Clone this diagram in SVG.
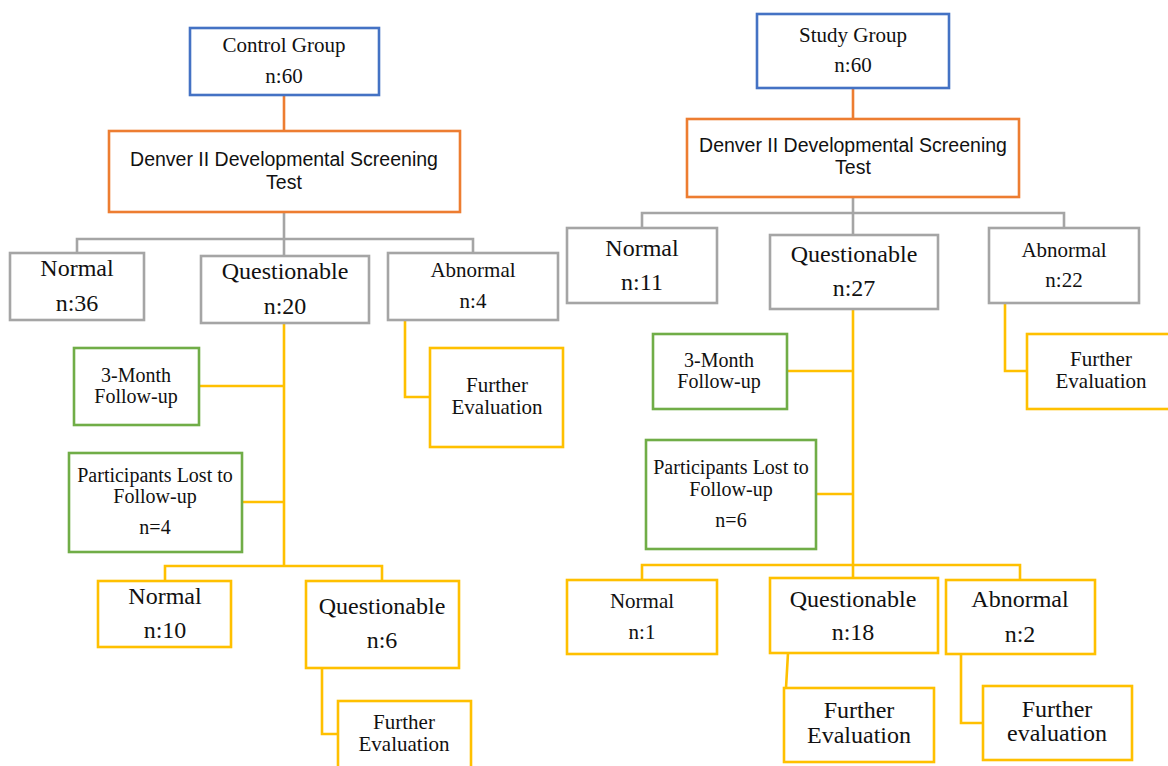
<svg xmlns="http://www.w3.org/2000/svg" width="1168" height="766" viewBox="0 0 1168 766">
<style>
rect{fill:#fff;stroke-width:2.6}
.b{stroke:#4472C4}.o{stroke:#ED7D31}.g{stroke:#A5A5A5}.y{stroke:#FFC000}.gr{stroke:#70AD47}
text{font-family:"Liberation Serif","Times New Roman",serif;fill:#111;text-anchor:middle}
.s20{font-size:20px}.s21{font-size:21px}.s24{font-size:24px}
.sans{font-family:"Liberation Sans",Arial,sans-serif;font-size:19.5px}
#connectors path{fill:none;stroke-width:2.6}
</style>
<rect x="0" y="0" width="1168" height="766" style="fill:#fff;stroke:none"/>
<g id="connectors">
<path class="o" d="M284 95V131M853 88V119"/>
<path class="g" d="M284 212V256M77 253V239H473V253M853 197V235M642 228V213H1064V228"/>
<path class="y" d="M284 323V566M199 386H284M242 502H284M165 581V566H382V581M405 320V397H430M322 668V734H338"/>
<path class="y" d="M853 309V578M787 371H853M816 494H853M642 580V565H1020V580M1005 303V371H1027M788 653L786 688M961 654V723H983"/>
</g>
<g id="control"><rect class="b" x="190" y="28" width="189" height="67"/><text class="s21" x="284" y="52">Control Group</text><text class="s21" x="284" y="83">n:60</text></g>
<g id="denver-left"><rect class="o" x="109" y="131" width="351" height="81"/><text class="sans" x="284" y="166">Denver II Developmental Screening</text><text class="sans" x="284" y="189">Test</text></g>
<g id="normal-left"><rect class="g" x="10" y="253" width="134" height="67"/><text class="s24" x="77" y="276">Normal</text><text class="s24" x="77" y="311">n:36</text></g>
<g id="questionable-left"><rect class="g" x="201" y="256" width="168" height="67"/><text class="s24" x="285" y="279">Questionable</text><text class="s24" x="285" y="314">n:20</text></g>
<g id="abnormal-left"><rect class="g" x="388" y="253" width="170" height="67"/><text class="s21" x="473" y="277">Abnormal</text><text class="s21" x="473" y="308">n:4</text></g>
<g id="further-left-1"><rect class="y" x="430" y="348" width="133" height="99"/><text class="s21" x="497" y="392">Further</text><text class="s21" x="497" y="414">Evaluation</text></g>
<g id="followup-left"><rect class="gr" x="74" y="348" width="125" height="77"/><text class="s20" x="136" y="382">3-Month</text><text class="s20" x="136" y="403">Follow-up</text></g>
<g id="lost-left"><rect class="gr" x="69" y="453" width="173" height="99"/><text class="s20" x="155" y="482">Participants Lost to</text><text class="s20" x="155" y="503">Follow-up</text><text class="s20" x="155" y="534">n=4</text></g>
<g id="normal-left-2"><rect class="y" x="98" y="581" width="133" height="66"/><text class="s24" x="165" y="604">Normal</text><text class="s24" x="165" y="638">n:10</text></g>
<g id="questionable-left-2"><rect class="y" x="306" y="581" width="153" height="87"/><text class="s24" x="382" y="614">Questionable</text><text class="s24" x="382" y="648">n:6</text></g>
<g id="further-left-2"><rect class="y" x="338" y="701" width="133" height="80"/><text class="s21" x="404" y="729">Further</text><text class="s21" x="404" y="751">Evaluation</text></g>
<g id="study"><rect class="b" x="757" y="14" width="192" height="74"/><text class="s21" x="853" y="42">Study Group</text><text class="s21" x="853" y="72">n:60</text></g>
<g id="denver-right"><rect class="o" x="687" y="119" width="332" height="78"/><text class="sans" x="853" y="152">Denver II Developmental Screening</text><text class="sans" x="853" y="174">Test</text></g>
<g id="normal-right"><rect class="g" x="567" y="228" width="150" height="75"/><text class="s24" x="642" y="256">Normal</text><text class="s24" x="642" y="290">n:11</text></g>
<g id="questionable-right"><rect class="g" x="770" y="235" width="168" height="74"/><text class="s24" x="854" y="262">Questionable</text><text class="s24" x="854" y="296">n:27</text></g>
<g id="abnormal-right"><rect class="g" x="989" y="228" width="150" height="75"/><text class="s21" x="1064" y="257">Abnormal</text><text class="s21" x="1064" y="287">n:22</text></g>
<g id="further-right-1"><rect class="y" x="1027" y="334" width="160" height="75"/><text class="s21" x="1101" y="366">Further</text><text class="s21" x="1101" y="388">Evaluation</text></g>
<g id="followup-right"><rect class="gr" x="653" y="334" width="134" height="75"/><text class="s20" x="719" y="367">3-Month</text><text class="s20" x="719" y="388">Follow-up</text></g>
<g id="lost-right"><rect class="gr" x="646" y="440" width="170" height="109"/><text class="s20" x="731" y="474">Participants Lost to</text><text class="s20" x="731" y="496">Follow-up</text><text class="s20" x="731" y="527">n=6</text></g>
<g id="normal-right-2"><rect class="y" x="567" y="580" width="150" height="74"/><text class="s21" x="642" y="608">Normal</text><text class="s21" x="642" y="639">n:1</text></g>
<g id="questionable-right-2"><rect class="y" x="770" y="578" width="168" height="75"/><text class="s24" x="853" y="607">Questionable</text><text class="s24" x="853" y="640">n:18</text></g>
<g id="abnormal-right-2"><rect class="y" x="946" y="580" width="149" height="74"/><text class="s24" x="1020" y="607">Abnormal</text><text class="s24" x="1020" y="642">n:2</text></g>
<g id="further-right-2"><rect class="y" x="784" y="688" width="150" height="74"/><text class="s24" x="859" y="718">Further</text><text class="s24" x="859" y="743">Evaluation</text></g>
<g id="further-right-3"><rect class="y" x="983" y="686" width="149" height="74"/><text class="s24" x="1057" y="717">Further</text><text class="s24" x="1057" y="741">evaluation</text></g>
</svg>
